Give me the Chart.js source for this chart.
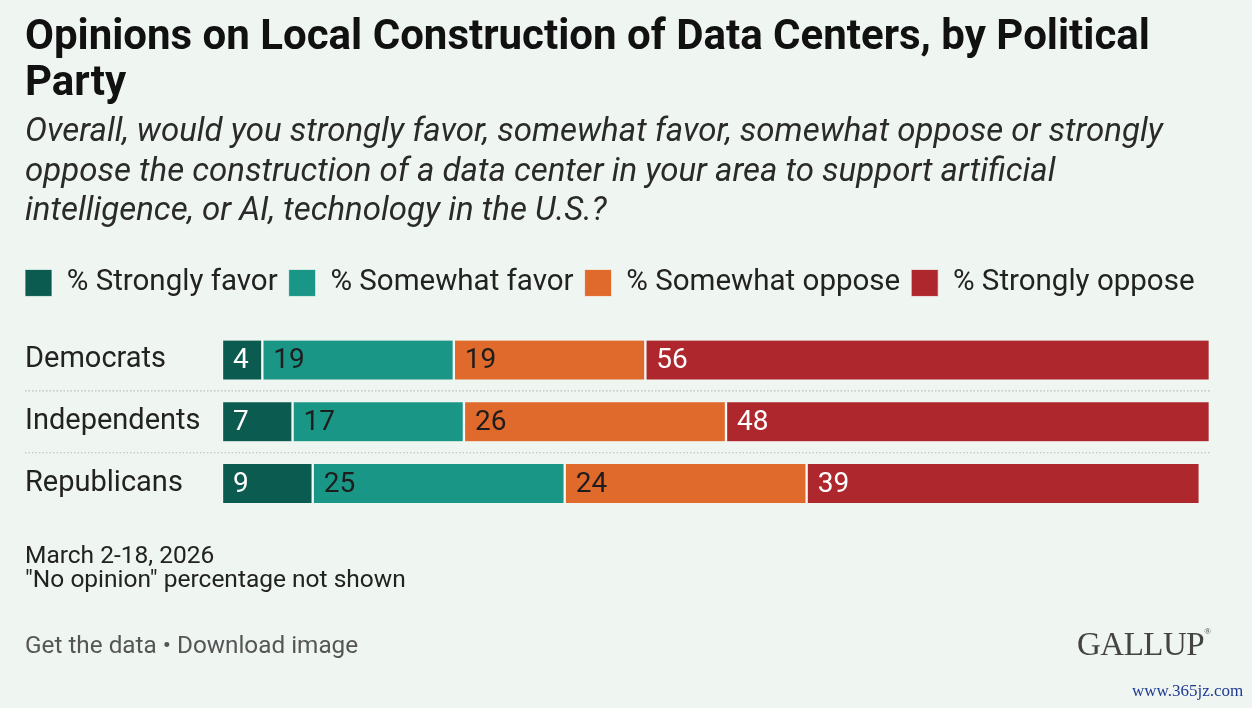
<!DOCTYPE html>
<html>
<head>
<meta charset="utf-8">
<script src="https://cdn.jsdelivr.net/npm/chart.js@4.4.1/dist/chart.umd.min.js"></script>
<style>
  html, body { margin: 0; padding: 0; background: #eff5f1; }
  #wrap { position: relative; width: 1252px; height: 708px; overflow: hidden; }
  #chart { position: absolute; left: 0; top: 0; }
  .note { position: absolute; font-family: Roboto, "Liberation Sans", sans-serif; color: #222; white-space: nowrap; }
</style>
</head>
<body>
<div id="wrap">
  <canvas id="chart" width="1252" height="708"></canvas>
  <div class="note" style="left:25px; top:543px; font-size:24.5px; line-height:24px;">March 2-18, 2026<br>"No opinion" percentage not shown</div>
  <div class="note" style="left:25px; top:630px; font-size:24.3px; color:#555;">Get the data &bull; Download image</div>
  <div class="note" style="left:1077px; top:626px; font-size:33px; color:#444; font-family:'Liberation Serif','DejaVu Serif',serif; letter-spacing:-0.5px;">GALLUP<span style="font-size:9px;vertical-align:top;">&reg;</span></div>
  <div class="note" style="left:1132px; top:681px; font-size:17px; color:#1f3a8f; font-family:'Liberation Serif',serif;">www.365jz.com</div>
</div>
<script>
// data
var parties = ["Democrats", "Independents", "Republicans"];
var seriesNames = ["% Strongly favor", "% Somewhat favor", "% Somewhat oppose", "% Strongly oppose"];
var stronglyFavor = [4, 7, 9];
var somewhatFavor = [19, 17, 25];
var somewhatOppose = [19, 26, 24];
var stronglyOppose = [56, 48, 39];

var colors = ["#0c5b50", "#1a9687", "#e0692c", "#ae272d"];
var labelColors = ["#ffffff", "#1d1d1d", "#1d1d1d", "#ffffff"];
var fontFam = "Roboto, 'Liberation Sans', sans-serif";

var allSeries = [stronglyFavor, somewhatFavor, somewhatOppose, stronglyOppose];
var datasets = allSeries.map(function (vals, i) {
    return {
        label: seriesNames[i],
        data: vals,
        backgroundColor: colors[i],
        borderColor: "#f6f9f6",
        borderWidth: { left: 1.5, right: 1.5, top: 0, bottom: 0 },
        borderSkipped: false,
        barThickness: 39
    };
});

var totals = parties.map(function (p, j) {
    return allSeries.reduce(function (s, a) { return s + a[j]; }, 0);
});

// legend: extra room below it, and pulled to the left edge
var legendTweak = {
    id: "legendTweak",
    beforeInit: function (chart) {
        var fit = chart.legend.fit;
        chart.legend.fit = function () {
            fit.call(this);
            this.height += 21.5;
        };
    },
    afterLayout: function (chart) {
        chart.legend.left -= 11;
    }
};

// dotted separators between rows
var rowLines = {
    id: "rowLines",
    beforeDatasetsDraw: function (chart) {
        var ctx = chart.ctx, y = chart.scales.y, x = chart.scales.x;
        var maxTotal = Math.max.apply(null, totals);
        ctx.save();
        ctx.strokeStyle = "#b8bdb9";
        ctx.lineWidth = 1.2;
        ctx.setLineDash([1.5, 2]);
        for (var i = 0; i < parties.length - 1; i++) {
            var yy = (y.getPixelForValue(i) + y.getPixelForValue(i + 1)) / 2;
            ctx.beginPath();
            ctx.moveTo(25, yy);
            ctx.lineTo(x.getPixelForValue(maxTotal), yy);
            ctx.stroke();
        }
        ctx.restore();
    }
};

// value labels at left of each segment
var valueLabels = {
    id: "valueLabels",
    afterDatasetsDraw: function (chart) {
        var ctx = chart.ctx;
        ctx.save();
        ctx.font = "28px " + fontFam;
        ctx.textBaseline = "middle";
        ctx.textAlign = "left";
        chart.data.datasets.forEach(function (ds, i) {
            chart.getDatasetMeta(i).data.forEach(function (bar, j) {
                var left = Math.min(bar.x, bar.base);
                ctx.fillStyle = labelColors[i];
                ctx.fillText(ds.data[j], left + 11, bar.y + 1);
            });
        });
        ctx.restore();
    }
};

new Chart(document.getElementById("chart").getContext("2d"), {
    type: "bar",
    data: { labels: parties, datasets: datasets },
    options: {
        indexAxis: "y",
        responsive: false,
        animation: false,
        events: [],
        layout: { padding: { top: 3, left: 25, right: 22, bottom: 193.5 } },
        scales: {
            x: { stacked: true, min: 0, max: 100, display: false },
            y: {
                stacked: true,
                grid: { display: false },
                border: { display: false },
                ticks: {
                    crossAlign: "far",
                    color: "#222",
                    padding: 0,
                    font: { family: fontFam, size: 29 }
                },
                afterFit: function (scale) { scale.width = 197; }
            }
        },
        plugins: {
            title: {
                display: true,
                align: "start",
                text: ["Opinions on Local Construction of Data Centers, by Political", "Party"],
                color: "#111",
                font: { family: fontFam, size: 42, weight: "bold", lineHeight: 1.1 },
                padding: { top: 12, bottom: 5 }
            },
            subtitle: {
                display: true,
                align: "start",
                text: [
                    "Overall, would you strongly favor, somewhat favor, somewhat oppose or strongly",
                    "oppose the construction of a data center in your area to support artificial",
                    "intelligence, or AI, technology in the U.S.?"
                ],
                color: "#2a2a2a",
                font: { family: fontFam, size: 33, style: "italic", lineHeight: 1.21 },
                padding: { top: 0, bottom: 25 }
            },
            legend: {
                display: true,
                position: "top",
                align: "start",
                labels: {
                    boxWidth: 27,
                    boxHeight: 27,
                    padding: 11,
                    color: "#222",
                    font: { family: fontFam, size: 29.5 }
                }
            },
            tooltip: { enabled: false }
        }
    },
    plugins: [legendTweak, rowLines, valueLabels]
});
</script>
</body>
</html>
